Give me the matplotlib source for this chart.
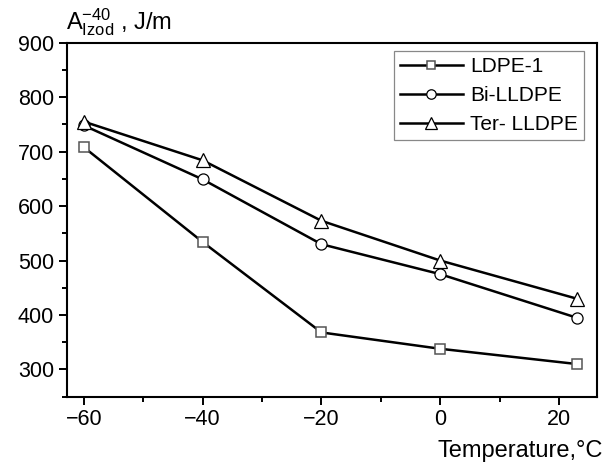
import matplotlib
matplotlib.use("Agg")
import matplotlib.pyplot as plt
from matplotlib.ticker import MultipleLocator, FuncFormatter

plt.rcParams['font.family'] = ['Liberation Sans', 'DejaVu Sans']
plt.rcParams['mathtext.fontset'] = 'custom'
plt.rcParams['mathtext.rm'] = 'Liberation Sans'
plt.rcParams['mathtext.it'] = 'Liberation Sans'

temperature = [-60, -40, -20, 0, 23]
ldpe1 = [708, 534, 368, 338, 310]
bi_lldpe = [748, 649, 530, 475, 395]
ter_lldpe = [755, 684, 573, 500, 430]
series_names = ["LDPE-1", "Bi-LLDPE", "Ter- LLDPE"]

fig = plt.figure(figsize=(6.03, 4.66), dpi=100)
ax = fig.add_axes([0.1106, 0.1487, 0.8794, 0.7597])

ax.plot(temperature, ldpe1, color='black', lw=1.8, marker='s', ms=7,
        mfc='white', mec='#555555', mew=1.1, label=series_names[0], zorder=3)
ax.plot(temperature, bi_lldpe, color='black', lw=1.8, marker='o', ms=8,
        mfc='white', mec='black', mew=0.9, label=series_names[1], zorder=3)
ax.plot(temperature, ter_lldpe, color='black', lw=1.8, marker='^', ms=9.5,
        mfc='white', mec='black', mew=0.9, label=series_names[2], zorder=3)

ax.set_xlim(-62.9, 26.4)
ax.set_ylim(250, 900)
ax.xaxis.set_major_locator(MultipleLocator(20))
ax.xaxis.set_minor_locator(MultipleLocator(10))
ax.yaxis.set_major_locator(MultipleLocator(100))
ax.yaxis.set_minor_locator(MultipleLocator(50))
ax.xaxis.set_major_formatter(FuncFormatter(lambda v, p: f"{int(round(v))}".replace('-', '\u2212')))
ax.tick_params(which='both', direction='out', top=False, right=False, labelsize=15.5, width=1.4, color='black')
ax.tick_params(which='major', length=6, pad=3)
ax.tick_params(which='minor', length=3.5)
for s in ax.spines.values():
    s.set_linewidth(1.5)

fig.text(0.999, 0.019, "Temperature,°C", ha='right', va='baseline', fontsize=17)
fig.text(0.109, 0.937, r"$\mathrm{A}_{\mathrm{Izod}}^{-40}$ , J/m", ha='left', va='baseline', fontsize=17)

leg = ax.legend(loc='upper right', bbox_to_anchor=(0.9755, 0.9766), fontsize=15,
                frameon=True, fancybox=False, edgecolor='#888888', framealpha=1,
                handlelength=3.0, handletextpad=0.35, borderpad=0.3, labelspacing=0.47,
                borderaxespad=0.0, markerscale=0.85)
leg.get_frame().set_linewidth(0.9)

fig.savefig("out.png", dpi=100)
